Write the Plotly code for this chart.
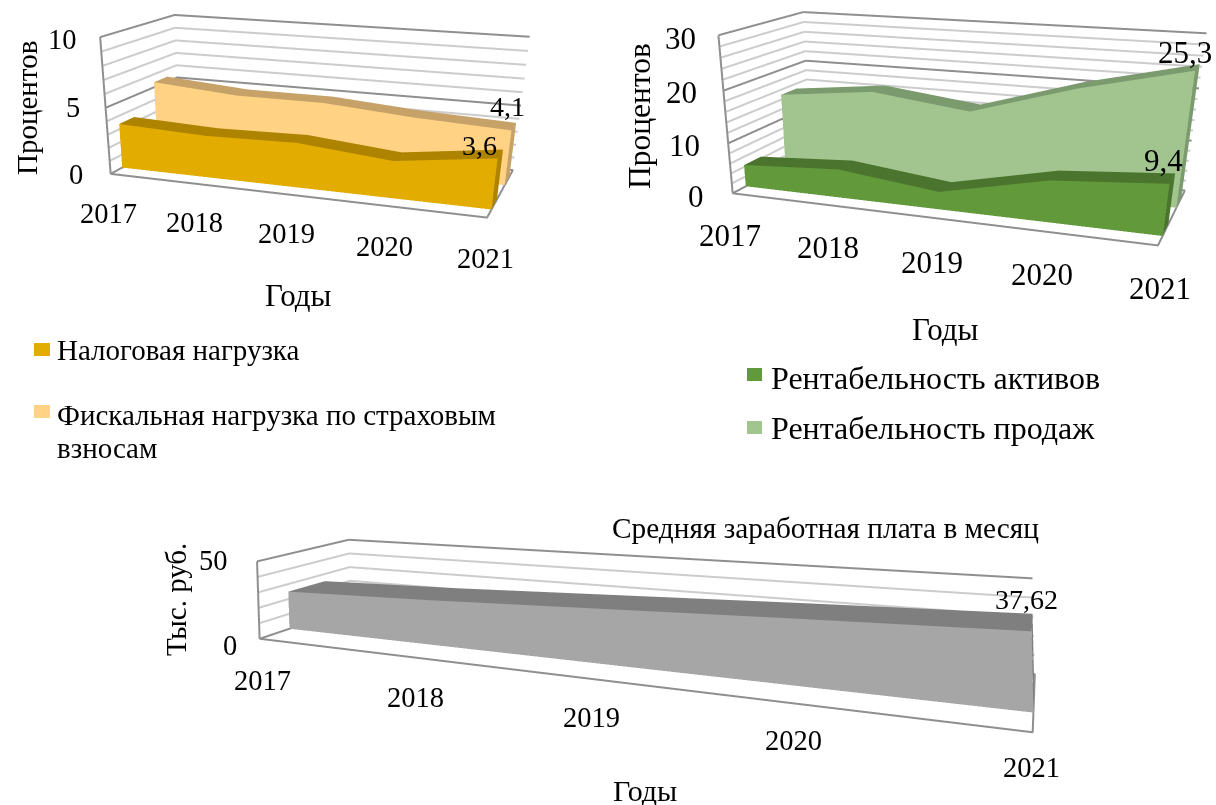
import plotly.graph_objects as go

W, H = 1216, 805
FONT = "Liberation Serif"

years = ["2017", "2018", "2019", "2020", "2021"]
tax_load = [3.4, 3.15, 3.3, 2.7, 3.6]
fiscal_load = [5.4, 4.9, 4.9, 4.4, 4.1]
roa = [4.4, 5.6, 3.4, 7.8, 9.4]
ros = [15.0, 17.1, 14.8, 20.7, 25.3]
salary = [25.0, 27.5, 31.0, 34.5, 37.62]

# camera: eye, center, up x/y, aspect y/z - fitted against the box corners of the picture
cam1 = [0.783, -2.475, 0.560, 0.199, -0.822, -0.417, -0.138, 0.358, 0.434, 0.345]
dom1 = (0, 560, 0, 805)
cam2 = [0.718, -2.164, 0.506, 0.495, -1.597, 0.169, -0.279, 0.714, 0.413, 0.356]
dom2 = (600, 1216, 0, 805)
cam3 = [0.518, -1.154, 0.292, -0.154, 0.162, 0.272, 0.028, 0.008, 0.207, 0.112]
dom3 = (0, 1100, 0, 805)

GRID_MAJOR, GRID_MINOR = "#8f8f8f", "#cccccc"


def band(v, y0, y1, front, dark, scene):
    xs, ys, zs = [], [], []
    for i, val in enumerate(v):
        xs += [i, i, i, i]
        ys += [y0, y0, y1, y1]
        zs += [0, val, 0, val]
    ii, jj, kk, cc = [], [], [], []
    for i in range(len(v) - 1):
        n = 4 * i
        ii += [n, n + 1, n + 1, n + 3]
        jj += [n + 4, n + 4, n + 5, n + 5]
        kk += [n + 1, n + 5, n + 3, n + 7]
        cc += [front, front, dark, dark]
    n = 4 * (len(v) - 1)
    ii += [n, n + 1]
    jj += [n + 2, n + 2]
    kk += [n + 1, n + 3]
    cc += [dark, dark]
    return go.Mesh3d(x=xs, y=ys, z=zs, i=ii, j=jj, k=kk, facecolor=cc, flatshading=True,
                     lighting=dict(ambient=1, diffuse=0, specular=0, fresnel=0, roughness=1),
                     hoverinfo="skip", scene=scene, showscale=False)


def walls(ztop, minor, major, ymax, scene):
    out = []
    for z in minor + major:
        out.append(go.Scatter3d(x=[0, 0, 4], y=[0, ymax, ymax], z=[z, z, z], mode="lines", scene=scene,
                                line=dict(color=GRID_MAJOR if z in major else GRID_MINOR, width=4),
                                hoverinfo="skip", showlegend=False))
    out.append(go.Scatter3d(x=[0, 0, 4, 4, 0], y=[ymax, 0, 0, ymax, ymax], z=[0] * 5, mode="lines", scene=scene,
                            line=dict(color=GRID_MAJOR, width=4), hoverinfo="skip", showlegend=False))
    out.append(go.Scatter3d(x=[0, 0], y=[0, 0], z=[0, ztop], mode="lines", scene=scene,
                            line=dict(color=GRID_MAJOR, width=4), hoverinfo="skip", showlegend=False))
    return out


def scene_layout(p, dom, ymax, ztop, notes):
    x0, x1, y0, y1 = dom
    off = dict(visible=False, showspikes=False)
    return dict(
        domain=dict(x=[x0 / W, x1 / W], y=[1 - y1 / H, 1 - y0 / H]),
        xaxis=dict(range=[0, 4], **off), yaxis=dict(range=[0, ymax], **off), zaxis=dict(range=[0, ztop], **off),
        aspectmode="manual", aspectratio=dict(x=1, y=p[8], z=p[9]),
        camera=dict(eye=dict(x=p[0], y=p[1], z=p[2]), center=dict(x=p[3], y=p[4], z=p[5]),
                    up=dict(x=p[6], y=p[7], z=1), projection=dict(type="perspective")),
        dragmode=False, annotations=notes,
    )


def value_note(x, y, z, text, dx, dy, size):
    return dict(x=x, y=y, z=z, text=text, showarrow=False, xshift=dx, yshift=dy,
                font=dict(family=FONT, size=size, color="black"))


fig = go.Figure()
fig.add_trace(band(fiscal_load, 1.3, 1.7, "#ffd284", "#c7a268", "scene"))
fig.add_trace(band(tax_load, 0.3, 0.7, "#e3ac00", "#ae8300", "scene"))
for tr in walls(10, [1, 2, 3, 4, 6, 7, 8, 9], [0, 5, 10], 2, "scene"):
    fig.add_trace(tr)
fig.add_trace(band(ros, 1.3, 1.7, "#a2c58f", "#7b9a6e", "scene2"))
fig.add_trace(band(roa, 0.3, 0.7, "#629a3b", "#4b752e", "scene2"))
for tr in walls(30, [z for z in range(2, 30, 2) if z % 10], [0, 10, 20, 30], 2, "scene2"):
    fig.add_trace(tr)
fig.add_trace(band(salary, 0.3, 0.7, "#a6a6a6", "#7f7f7f", "scene3"))
for tr in walls(50, [10, 20, 30, 40], [0, 50], 1, "scene3"):
    fig.add_trace(tr)

fig.update_layout(
    width=W, height=H, margin=dict(l=0, r=0, t=0, b=0), paper_bgcolor="white", showlegend=False,
    scene=scene_layout(cam1, dom1, 2, 10, [
        value_note(4, 1.5, fiscal_load[-1], "4,1", -6, 20, 28),
        value_note(4, 0.5, tax_load[-1], "3,6", -21, 8, 28)]),
    scene2=scene_layout(cam2, dom2, 2, 30, [
        value_note(4, 1.5, ros[-1], "25,3", -12, 15, 31),
        value_note(4, 0.5, roa[-1], "9,4", -9, 18, 31)]),
    scene3=scene_layout(cam3, dom3, 1, 50, [
        value_note(4, 0.5, salary[-1], "37,62", -6, 23, 28)]),
)


def note(x, y, text, size, angle=0, anchor="center"):
    fig.add_annotation(x=x / W, y=1 - y / H, xref="paper", yref="paper", text=text, showarrow=False, textangle=angle,
                       xanchor=anchor, yanchor="middle", font=dict(family=FONT, size=size, color="black"), align="left")


def swatch(x0, y0, x1, y1, color):
    fig.add_shape(type="rect", xref="paper", yref="paper", x0=x0 / W, x1=x1 / W, y0=1 - y0 / H, y1=1 - y1 / H,
                  fillcolor=color, line_width=0, layer="above")


for lab, pos in zip(years, [(108, 213), (194, 222), (286, 234), (384, 246), (485, 258)]):
    note(*pos, lab, 28.5)
for lab, pos in zip(years, [(730, 235), (828, 248), (932, 262), (1042, 274), (1160, 288)]):
    note(*pos, lab, 31)
for lab, pos in zip(years, [(262, 680), (415, 697), (591, 717), (793, 740), (1031, 767)]):
    note(*pos, lab, 28.5)
for lab, pos in zip(["10", "5", "0"], [(62, 40), (73, 108), (76, 175)]):
    note(*pos, lab, 28.5)
for lab, pos in zip(["30", "20", "10", "0"], [(680, 39), (681, 93), (684, 145), (696, 197)]):
    note(*pos, lab, 31)
for lab, pos in zip(["50", "0"], [(213, 560), (230, 645)]):
    note(*pos, lab, 28.5)
note(27, 108, "Процентов", 29, -90)
note(640, 116, "Процентов", 31.5, -90)
note(176, 600, "Тыс. руб.", 29, -90)
note(298, 296, "Годы", 31)
note(945, 329, "Годы", 31)
note(645, 790, "Годы", 30)
note(825, 528, "Средняя заработная плата в месяц", 29.3)
swatch(34, 343, 50, 356, "#e3ac00")
note(55, 350, "Налоговая нагрузка", 29, anchor="left")
swatch(34, 405, 50, 418, "#ffd284")
note(55, 415, "Фискальная нагрузка по страховым", 29, anchor="left")
note(55, 448, "взносам", 29, anchor="left")
swatch(747, 368, 762, 381, "#629a3b")
note(769, 378, "Рентабельность активов", 32, anchor="left")
swatch(747, 421, 762, 434, "#a2c58f")
note(769, 428, "Рентабельность продаж", 32, anchor="left")

fig.write_html("out.html", config={"displayModeBar": False},
               post_script="document.body.style.margin='0';document.documentElement.style.overflow='hidden';")
